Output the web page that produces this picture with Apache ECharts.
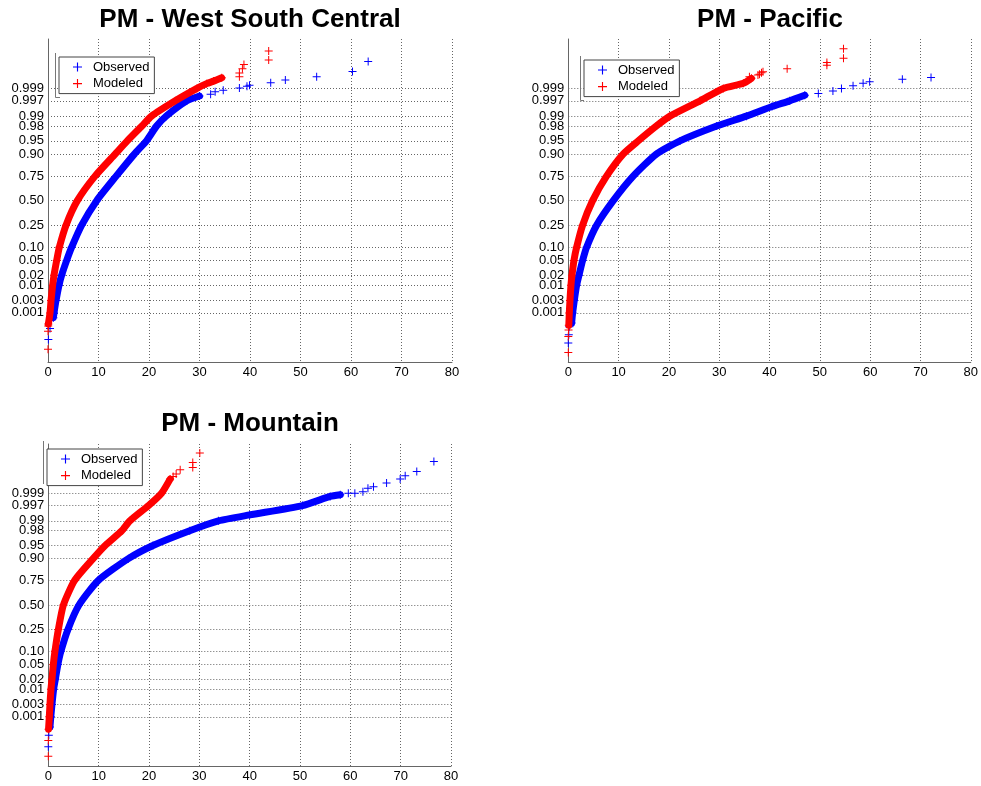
<!DOCTYPE html>
<html><head><meta charset="utf-8">
<script src="https://cdn.jsdelivr.net/npm/echarts@6/dist/echarts.min.js"></script>
<style>html,body{margin:0;padding:0;background:#fff}#c{width:981px;height:786px}</style>
</head><body><div id="c"></div><script>
// ---- data (x = PM value, p = cumulative probability) ----
const titles = ['PM - West South Central', 'PM - Pacific', 'PM - Mountain'];
const seriesNames = ['Observed', 'Modeled'];
const probTicks = [0.001, 0.003, 0.01, 0.02, 0.05, 0.10, 0.25, 0.50, 0.75, 0.90, 0.95, 0.98, 0.99, 0.997, 0.999];
const probTickLabels = ['0.001', '0.003', '0.01', '0.02', '0.05', '0.10', '0.25', '0.50', '0.75', '0.90', '0.95', '0.98', '0.99', '0.997', '0.999'];
const xTicks = [0, 10, 20, 30, 40, 50, 60, 70, 80];

// West South Central
const wscObsBand = [[1.06,0.00064],[1.19,0.001],[1.59,0.003],[2.18,0.01],[2.7,0.02],[3.7,0.05],[4.69,0.10],[6.67,0.25],[9.64,0.50],[13.5,0.75],[17.1,0.90],[19.5,0.95],[21.5,0.98],[23.4,0.99],[27.5,0.997],[30.0,0.99801]];
const wscObsTail = [[32.2,0.99831],[33.1,0.99865],[34.7,0.99882],[37.9,0.99903],[39.4,0.99918],[39.9,0.99926],[44.1,0.99942],[47.0,0.99955],[53.2,0.99968],[60.3,0.99981],[63.4,0.999936],[0.4,0.000216],[0.07,0.000067]];
const wscModBand = [[0.07,0.00034],[0.4,0.001],[0.6,0.003],[0.92,0.01],[1.19,0.02],[1.72,0.05],[2.25,0.10],[3.57,0.25],[5.81,0.50],[9.31,0.75],[13.3,0.90],[15.7,0.95],[18.6,0.98],[20.5,0.99],[25.2,0.997],[29.5,0.999],[31.4,0.99936],[32.8,0.9995],[34.4,0.99964]];
const wscModTail = [[37.9,0.99968],[37.9,0.99978],[38.5,0.99986],[38.8,0.999912],[43.7,0.999946],[43.7,0.999981],[0.0,0.0000216],[0.0,0.00016],[0.05,0.00028]];

// Pacific
const pacObsBand = [[0.66,0.000376],[0.86,0.001],[1.19,0.003],[1.66,0.01],[2.12,0.02],[2.85,0.05],[3.64,0.10],[5.63,0.25],[8.94,0.50],[12.9,0.75],[17.5,0.90],[22.2,0.95],[29.5,0.98],[35.4,0.99],[40.5,0.9952],[44.0,0.997],[47.0,0.998134]];
const pacObsTail = [[49.7,0.998411],[52.6,0.998736],[54.3,0.998999],[56.6,0.999211],[58.6,0.999381],[59.9,0.999462],[66.4,0.999581],[72.1,0.99965],[0.0,0.0000443],[0.2,0.00026],[0.1,0.000112]];
const pacModBand = [[0.1,0.0003],[0.2,0.001],[0.33,0.003],[0.53,0.01],[0.73,0.02],[1.13,0.05],[1.66,0.10],[2.85,0.25],[4.83,0.50],[7.6,0.75],[10.9,0.90],[13.9,0.95],[17.5,0.98],[20.2,0.99],[26.2,0.997],[30.8,0.999],[34.8,0.999381],[36.4,0.99962]];
const pacModTail = [[36.0,0.999675],[37.7,0.99973],[38.0,0.99975],[38.4,0.999784],[38.7,0.999807],[43.5,0.999858],[51.4,0.999904],[51.4,0.999928],[54.7,0.999956],[54.7,0.9999854],[0.0,0.0000146],[0.0,0.000092],[0.05,0.000185]];

// Mountain
const mtnObsBand = [[0.33,0.000376],[0.5,0.001],[0.73,0.003],[1.06,0.01],[1.4,0.02],[1.9,0.05],[2.5,0.10],[3.9,0.25],[6.1,0.50],[9.9,0.75],[15.9,0.90],[20.8,0.95],[28.1,0.98],[33.8,0.99],[40.0,0.99361],[50.5,0.997],[56.0,0.99865],[58.0,0.99885]];
const mtnObsTail = [[59.6,0.999],[60.9,0.999],[62.5,0.99913],[63.5,0.99938],[64.6,0.99946],[67.2,0.999624],[69.9,0.999749],[70.9,0.999822],[73.2,0.999888],[76.6,0.999964],[0.0,0.0000443],[0.1,0.00016]];
const mtnModBand = [[0.05,0.0003],[0.2,0.001],[0.33,0.003],[0.53,0.01],[0.73,0.02],[1.0,0.05],[1.32,0.10],[2.0,0.25],[3.0,0.50],[5.2,0.75],[8.9,0.90],[11.3,0.95],[14.6,0.98],[16.2,0.99],[19.9,0.997],[22.5,0.999],[24.2,0.999749]];
const mtnModTail = [[24.8,0.999807],[25.4,0.999853],[26.2,0.999908],[28.7,0.999928],[28.7,0.999959],[30.1,0.9999867],[0.0,0.0000146],[0.0,0.00009]];

// ---- normal-probability scale transform ----
function probit(p) {
  const a = [-3.969683028665376e+01, 2.209460984245205e+02, -2.759285104469687e+02, 1.383577518672690e+02, -3.066479806614716e+01, 2.506628277459239e+00];
  const b = [-5.447609879822406e+01, 1.615858368580409e+02, -1.556989798598866e+02, 6.680131188771972e+01, -1.328068155288572e+01];
  const c = [-7.784894002430293e-03, -3.223964580411365e-01, -2.400758277161838e+00, -2.549732539343734e+00, 4.374664141464968e+00, 2.938163982698783e+00];
  const d = [7.784695709041462e-03, 3.224671290700398e-01, 2.445134137142996e+00, 3.754408661907416e+00];
  const plow = 0.02425, phigh = 1 - plow;
  let q, r;
  if (p < plow) {
    q = Math.sqrt(-2 * Math.log(p));
    return (((((c[0]*q+c[1])*q+c[2])*q+c[3])*q+c[4])*q+c[5]) / ((((d[0]*q+d[1])*q+d[2])*q+d[3])*q+1);
  }
  if (p <= phigh) {
    q = p - 0.5; r = q * q;
    return (((((a[0]*r+a[1])*r+a[2])*r+a[3])*r+a[4])*r+a[5])*q / (((((b[0]*r+b[1])*r+b[2])*r+b[3])*r+b[4])*r+1);
  }
  q = Math.sqrt(-2 * Math.log(1 - p));
  return -(((((c[0]*q+c[1])*q+c[2])*q+c[3])*q+c[4])*q+c[5]) / ((((d[0]*q+d[1])*q+d[2])*q+d[3])*q+1);
}
const toXY = pt => [pt[0], probit(pt[1])];
const tickZ = probTicks.map(probit);
const Z_MIN = -4.45, Z_MAX = 4.45;
const labelZ = [Z_MIN].concat(tickZ, [Z_MAX]);   // blank end labels keep min/max overlap logic away from real ticks
function tickLabel(v) {
  let best = -1, bd = 0.02;
  tickZ.forEach((z, i) => { const dd = Math.abs(z - v); if (dd < bd) { bd = dd; best = i; } });
  return best < 0 ? '' : probTickLabels[best];
}

// ---- styling / layout ----
const FONT = 'Arial, "Liberation Sans", sans-serif';
const BLUE = '#0000ff', RED = '#ff0000';
const PLUS = 'path://M3.5,0H4.5V3.5H8V4.5H4.5V8H3.5V4.5H0V3.5H3.5Z';
const GRID_LINE = { type: [1, 2], color: '#666', width: 1 };
const grids = [
  { left: 48, top: 39, width: 404, height: 323.3 },
  { left: 568.3, top: 39, width: 403.4, height: 323.3 },
  { left: 48.3, top: 444, width: 402.7, height: 322 }
];
const titlePos = [{ left: 245, top: 2 }, { left: 765, top: 2 }, { left: 245, top: 406 }];
const legendPos = [{ left: 59, top: 57 }, { left: 584, top: 60 }, { left: 47, top: 449 }];
const panels = [
  [wscObsBand, wscObsTail, wscModBand, wscModTail],
  [pacObsBand, pacObsTail, pacModBand, pacModTail],
  [mtnObsBand, mtnObsTail, mtnModBand, mtnModTail]
];

const xAxes = [], yAxes = [], series = [], legends = [], titleOpts = [];
panels.forEach((pd, i) => {
  xAxes.push({
    type: 'value', gridIndex: i, min: xTicks[0], max: xTicks[xTicks.length - 1], interval: 10,
    axisLine: { show: true, onZero: false, lineStyle: { color: '#666', width: 1 } },
    axisTick: { show: false },
    axisLabel: { color: '#000', fontSize: 13, fontFamily: FONT, margin: 4, showMinLabel: true, showMaxLabel: true },
    splitLine: { show: true, lineStyle: GRID_LINE }
  });
  yAxes.push({
    type: 'value', gridIndex: i, min: Z_MIN, max: Z_MAX,
    axisLine: { show: true, onZero: false, lineStyle: { color: '#666', width: 1 } },
    axisTick: { show: false, customValues: tickZ },
    axisLabel: { customValues: labelZ, formatter: tickLabel, color: '#000', fontSize: 13, fontFamily: FONT, margin: 4,
                 hideOverlap: false, interval: 0 },
    splitLine: { show: true, lineStyle: GRID_LINE }
  });
  const [ob, ot, mb, mt] = pd;
  const mk = (band, tail, name, color) => [
    { type: 'line', name: name + ' band', xAxisIndex: i, yAxisIndex: i, data: band.map(toXY),
      showSymbol: false, smooth: 0.2, clip: false, silent: true,
      lineStyle: { color: color, width: 7, cap: 'round', join: 'round' }, itemStyle: { color: color } },
    { type: 'scatter', name: name, xAxisIndex: i, yAxisIndex: i, data: band.concat(tail).map(toXY),
      symbol: PLUS, symbolSize: 8, itemStyle: { color: color, opacity: 1 } }
  ];
  series.push(...mk(ob, ot, seriesNames[0], BLUE), ...mk(mb, mt, seriesNames[1], RED));
  legends.push({
    left: legendPos[i].left, top: legendPos[i].top, orient: 'vertical',
    data: seriesNames.map(n => ({ name: n, icon: PLUS })),
    itemWidth: 9, itemHeight: 9, itemGap: 2.6,
    padding: [3, 5, 3, 14],
    backgroundColor: '#fff', borderColor: '#444', borderWidth: 1, borderRadius: 0,
    textStyle: { fontSize: 13, fontFamily: FONT, color: '#000', lineHeight: 14, padding: [0, 0, 0, 6] },
    selectedMode: false, z: 10
  });
  titleOpts.push({
    text: titles[i], left: titlePos[i].left, top: titlePos[i].top, textAlign: 'center',
    textStyle: { fontSize: 26, fontWeight: 'bold', fontFamily: FONT, color: '#000' }
  });
});

const chart = echarts.init(document.getElementById('c'), null, { renderer: 'canvas' });
chart.setOption({
  animation: false,
  backgroundColor: '#fff',
  title: titleOpts,
  grid: grids.map(g => Object.assign({ containLabel: false }, g)),
  xAxis: xAxes,
  yAxis: yAxes,
  legend: legends,
  series: series,
  graphic: [
    { type: 'polyline', shape: { points: [[55.5, 53], [55.5, 97.5], [60, 97.5]] }, style: { stroke: '#777', fill: null, lineWidth: 1 }, z: 20 },
    { type: 'polyline', shape: { points: [[580.5, 56], [580.5, 100.5], [584, 100.5]] }, style: { stroke: '#777', fill: null, lineWidth: 1 }, z: 20 },
    { type: 'line', shape: { x1: 43.5, y1: 441, x2: 43.5, y2: 484 }, style: { stroke: '#777', lineWidth: 1 }, z: 20 }
  ]
});
</script></body></html>
